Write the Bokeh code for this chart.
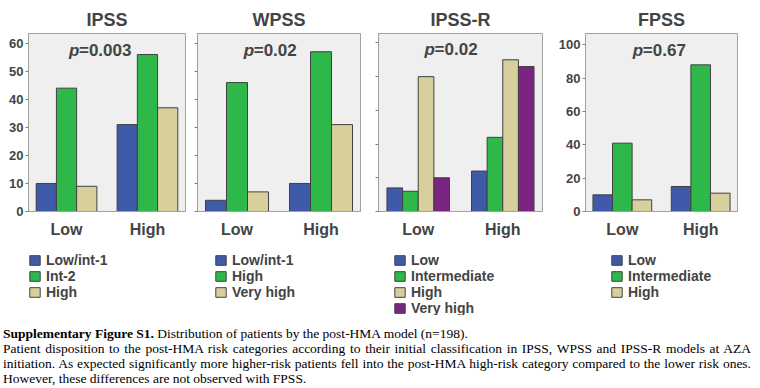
from bokeh.plotting import figure
from bokeh.models import Range1d, FixedTicker, Legend, LegendItem, Label, Div
from bokeh.layouts import row, column
from bokeh.embed import file_html
from bokeh.resources import INLINE

# ---------------- data ----------------
categories = ["Low", "High"]

ipss_series = ["Low/int-1", "Int-2", "High"]
ipss_values = [[10, 31], [44, 56], [9, 37]]

wpss_series = ["Low/int-1", "High", "Very high"]
wpss_values = [[4, 10], [46, 57], [7, 31]]

ipssr_series = ["Low", "Intermediate", "High", "Very high"]
ipssr_values = [[7, 12], [6, 22], [40, 45], [10, 43]]

fpss_series = ["Low", "Intermediate", "High"]
fpss_values = [[10, 15], [41, 88], [7, 11]]

titles = ["IPSS", "WPSS", "IPSS-R", "FPSS"]
p_values = ["0.003", "0.02", "0.02", "0.67"]

ticks_60 = [0, 10, 20, 30, 40, 50, 60]
ticks_50 = [0, 10, 20, 30, 40, 50]
ticks_100 = [0, 20, 40, 60, 80, 100]

# ---------------- style ----------------
COLORS = ["#3F5AA8", "#2FB84A", "#D7D09C", "#7A2582"]
LINE = "#404040"
FONT = "Liberation Sans"
FRAME_H = 178
LEG_H = 74


def panel(title, series, values, pval, ymax, yticks, show_ylabels, bar_w,
          frame_w, border_l, border_r, p_x, p_y):
    p = figure(frame_width=frame_w, frame_height=FRAME_H,
               min_border_left=border_l, min_border_right=border_r,
               min_border_top=33, min_border_bottom=30,
               x_range=Range1d(-0.47, 1.47), y_range=Range1d(0, ymax),
               output_backend="svg", toolbar_location=None)
    p.title.text = title
    p.title.align = "center"
    p.title.text_font = FONT
    p.title.text_font_size = "18px"
    p.title.text_font_style = "bold"
    p.title.standoff = 8

    p.background_fill_color = "#EFEFEF"
    p.border_fill_color = "white"
    p.outline_line_color = "#A0A0A0"
    p.xgrid.visible = False
    p.ygrid.visible = False

    n = len(series)
    for i, vals in enumerate(values):
        xs = [c + (i - (n - 1) / 2) * bar_w for c in range(len(categories))]
        p.vbar(x=xs, top=vals, width=bar_w, bottom=0,
               fill_color=COLORS[i], line_color=LINE, line_width=1)

    # x axis
    xa = p.xaxis[0]
    xa.ticker = FixedTicker(ticks=list(range(len(categories))))
    xa.major_label_overrides = {i: c for i, c in enumerate(categories)}
    xa.major_tick_out = 0
    xa.major_tick_in = 0
    xa.minor_tick_out = 0
    xa.minor_tick_in = 0
    xa.axis_line_color = "#A0A0A0"
    xa.major_label_text_font = FONT
    xa.major_label_text_font_size = "16px"
    xa.major_label_text_font_style = "bold"
    xa.major_label_standoff = 9

    # y axis
    ya = p.yaxis[0]
    ya.ticker = FixedTicker(ticks=yticks)
    if not show_ylabels:
        ya.major_label_overrides = {t: "" for t in yticks}
    ya.major_tick_out = 3
    ya.major_tick_in = 0
    ya.minor_tick_out = 0
    ya.minor_tick_in = 0
    ya.major_tick_line_color = "#808080"
    ya.axis_line_color = "#A0A0A0"
    ya.major_label_text_font = FONT
    ya.major_label_text_font_size = "13px"
    ya.major_label_text_font_style = "bold"
    ya.major_label_standoff = 2

    # p-value: italic "p" followed by bold value
    p.add_layout(Label(x=p_x, y=p_y, text="p", text_align="left",
                       text_baseline="middle", text_font=FONT,
                       text_font_size="17px", text_font_style="bold italic"))
    p.add_layout(Label(x=p_x, y=p_y, x_offset=10, text="=" + pval,
                       text_align="left", text_baseline="middle",
                       text_font=FONT, text_font_size="17px",
                       text_font_style="bold"))
    return p


def legend_fig(series, width, dx, dy):
    lf = figure(width=width, height=LEG_H, title=None,
                min_border_left=dx, min_border_top=dy,
                min_border_right=0, min_border_bottom=0,
                x_range=Range1d(0, 1), y_range=Range1d(0, 1),
                x_axis_location=None, y_axis_location=None,
                output_backend="svg", toolbar_location=None)
    lf.outline_line_color = None
    lf.background_fill_color = "white"
    lf.border_fill_color = "white"
    lf.grid.visible = False
    items = []
    for i, name in enumerate(series):
        # swatch-only renderer, kept outside the visible range
        r = lf.vbar(x=[-5], top=[-5], bottom=[-6], width=0.1,
                    fill_color=COLORS[i], line_color=LINE, line_width=1)
        items.append(LegendItem(label=name, renderers=[r]))
    lf.add_layout(Legend(items=items, location="top_left",
                         orientation="vertical", padding=0, margin=0,
                         spacing=0, glyph_width=13, glyph_height=12,
                         label_height=14, label_standoff=5,
                         label_text_font=FONT, label_text_font_size="14px",
                         label_text_font_style="bold",
                         border_line_color=None, background_fill_alpha=0))
    return lf


p1 = panel(titles[0], ipss_series, ipss_values, p_values[0], 63.5, ticks_60, True,
           0.25, 157, 28, 5, 0.03, 57.5)
p2 = panel(titles[1], wpss_series, wpss_values, p_values[1], 63.5, ticks_60, False,
           0.25, 163, 7, 8, 0.08, 57.5)
p3 = panel(titles[2], ipssr_series, ipssr_values, p_values[2], 52.8, ticks_50, False,
           0.185, 164, 10, 13, 0.075, 48.1)
p4 = panel(titles[3], fpss_series, fpss_values, p_values[3], 106.8, ticks_100, True,
           0.25, 152, 30, 8, 0.134, 96.6)

l1 = legend_fig(ipss_series, 190, 28, 11)
l2 = legend_fig(wpss_series, 178, 24, 11)
l3 = legend_fig(ipssr_series, 187, 25, 7)
l4 = legend_fig(fpss_series, 190, 55, 11)

caption_html = """
<div style="font-family:'Liberation Serif','Times New Roman',serif;font-size:13.5px;line-height:15px;color:#000;margin-top:6px;margin-left:-2px;width:748px;">
<div style="white-space:nowrap;"><b>Supplementary Figure S1.</b> Distribution of patients by the post-HMA model (n=198).</div>
<div style="white-space:nowrap;text-align:justify;text-align-last:justify;">Patient disposition to the post-HMA risk categories according to their initial classification in IPSS, WPSS and IPSS-R models at AZA</div>
<div style="white-space:nowrap;text-align:justify;text-align-last:justify;">initiation. As expected significantly more higher-risk patients fell into the post-HMA high-risk category compared to the lower risk ones.</div>
<div style="white-space:nowrap;">However, these differences are not observed with FPSS.</div>
</div>
"""
caption = Div(text=caption_html, width=748, height=68)

layout = column(row(p1, p2, p3, p4), row(l1, l2, l3, l4), caption)

open("out.html", "w").write(file_html(layout, INLINE))
